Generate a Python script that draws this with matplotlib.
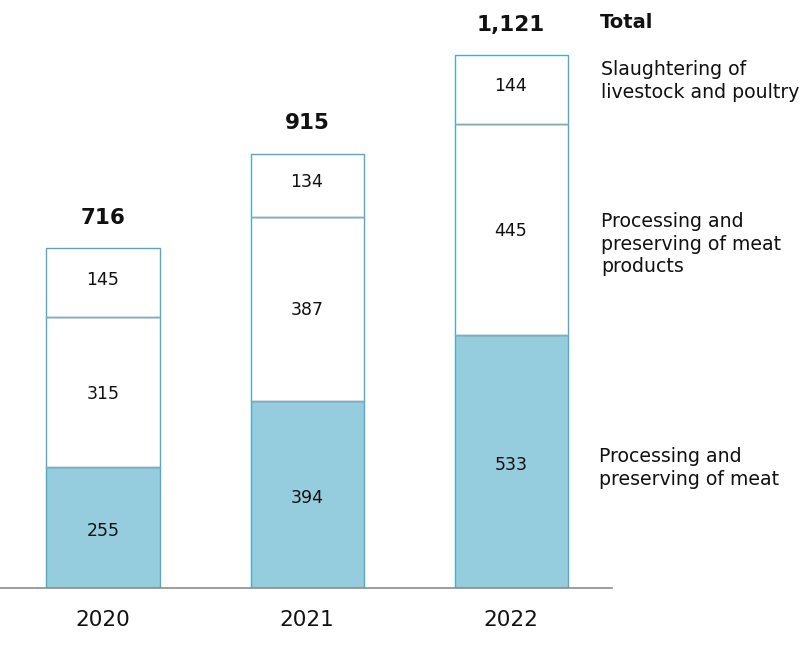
import matplotlib
matplotlib.use("Agg")
import matplotlib.pyplot as plt
import numpy as np

years = ["2020", "2021", "2022"]
meat = [255, 394, 533]
meat_products = [315, 387, 445]
slaughtering = [145, 134, 144]
totals = [716, 915, 1121]
total_labels = ["716", "915", "1,121"]
series_names = ["Processing and\npreserving of meat",
                "Processing and\npreserving of meat\nproducts",
                "Slaughtering of\nlivestock and poultry"]

W, H = 809, 648
fig = plt.figure(figsize=(W / 100, H / 100), dpi=100)
ax = fig.add_axes([0, 60 / H, 612 / W, 588 / H])

x = np.arange(len(years))
width = 113 / 204
edge = "#4BACC6"
fill = "#95CDDE"

ax.bar(x, meat, width, color=fill, edgecolor=edge, linewidth=1)
ax.bar(x, meat_products, width, bottom=meat, color="white",
       edgecolor=edge, linewidth=1)
bot3 = np.array(meat) + np.array(meat_products)
ax.bar(x, slaughtering, width, bottom=bot3, color="white",
       edgecolor=edge, linewidth=1)

# inner dividers
for i in range(len(x)):
    for yv in (meat[i], bot3[i]):
        ax.plot([x[i] - width / 2, x[i] + width / 2], [yv, yv],
                color="#8FA9B3", lw=1, zorder=3)

for i in range(len(x)):
    ax.text(x[i], meat[i] / 2 - 8, str(meat[i]), ha="center", va="center",
            fontsize=12.5, color="#111111")
    ax.text(x[i], meat[i] + meat_products[i] / 2 - 3, str(meat_products[i]),
            ha="center", va="center", fontsize=12.5, color="#111111")
    ax.text(x[i], bot3[i] + slaughtering[i] / 2 + 7, str(slaughtering[i]),
            ha="center", va="center", fontsize=12.5, color="#111111")
    ax.text(x[i], totals[i] + 64, total_labels[i], ha="center", va="center",
            fontsize=15.5, fontweight="bold", color="#111111")

ax.set_xlim(-103 / 204, 2 + 101 / 204)
ax.set_ylim(0, 588 / (340 / 716))
for s in ["top", "right", "left"]:
    ax.spines[s].set_visible(False)
ax.spines["bottom"].set_color("#8C8C8C")
ax.spines["bottom"].set_linewidth(1.2)
ax.set_yticks([])
ax.set_xticks(x)
ax.set_xticklabels(years, fontsize=15.5, color="#111111")
ax.tick_params(axis="x", length=0, pad=16)

# legend-like labels on the right
def ft(px_x, px_y, s, **kw):
    fig.text(px_x / W, 1 - px_y / H, s, **kw)

ft(600, 23, "Total", ha="left", va="center", fontsize=14,
   fontweight="bold", color="#111111")
ft(601, 81, series_names[2], ha="left", va="center", fontsize=13.6,
   color="#111111", linespacing=1.23)
ft(601, 244, series_names[1], ha="left", va="center", fontsize=13.6,
   color="#111111", linespacing=1.23)
ft(599, 468, series_names[0], ha="left", va="center", fontsize=13.6,
   color="#111111", linespacing=1.23)

fig.savefig("out.png", dpi=100)
